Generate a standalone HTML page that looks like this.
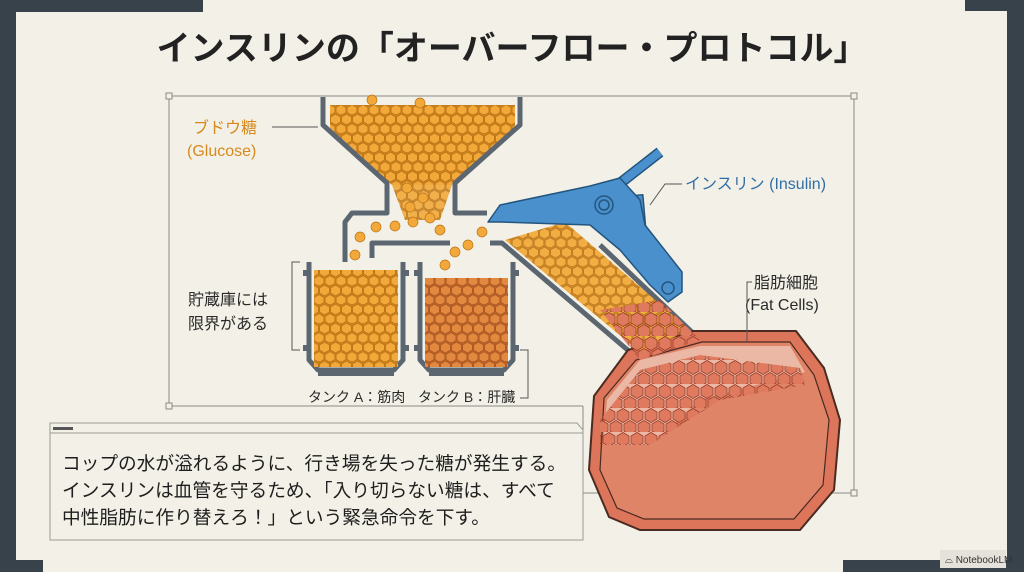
<!DOCTYPE html>
<html><head><meta charset="utf-8"><style>
html,body{margin:0;padding:0;width:1024px;height:572px;overflow:hidden;background:#f3f1e7;}
svg{display:block}
text{font-family:"Liberation Sans","Noto Sans CJK JP",sans-serif;}
</style></head><body>
<svg width="1024" height="572" viewBox="0 0 1024 572" xmlns="http://www.w3.org/2000/svg">
<defs>
<pattern id="hexO" width="11" height="19" patternUnits="userSpaceOnUse">
<rect width="11" height="19" fill="#c9801c"/>
<polygon points="5.5,0.3 10.3,3 10.3,8 5.5,10.7 0.7,8 0.7,3" fill="#f2a93a" stroke="#b87216" stroke-width="0.6"/>
<polygon points="0,9.8 4.8,12.5 4.8,17.5 0,20.2 -4.8,17.5 -4.8,12.5" fill="#f2a93a" stroke="#b87216" stroke-width="0.6"/>
<polygon points="11,9.8 15.8,12.5 15.8,17.5 11,20.2 6.2,17.5 6.2,12.5" fill="#f2a93a" stroke="#b87216" stroke-width="0.6"/>
</pattern>
<pattern id="hexB" width="11" height="19" patternUnits="userSpaceOnUse">
<rect width="11" height="19" fill="#b8602a"/>
<polygon points="5.5,0.3 10.3,3 10.3,8 5.5,10.7 0.7,8 0.7,3" fill="#e3893f" stroke="#a9561f" stroke-width="0.6"/>
<polygon points="0,9.8 4.8,12.5 4.8,17.5 0,20.2 -4.8,17.5 -4.8,12.5" fill="#e3893f" stroke="#a9561f" stroke-width="0.6"/>
<polygon points="11,9.8 15.8,12.5 15.8,17.5 11,20.2 6.2,17.5 6.2,12.5" fill="#e3893f" stroke="#a9561f" stroke-width="0.6"/>
</pattern>
<pattern id="hexR" width="14" height="24" patternUnits="userSpaceOnUse">
<polygon points="7,0.5 13,4 13,11 7,14.5 1,11 1,4" fill="#e07a5f" stroke="#9a3e2a" stroke-width="0.8"/>
<polygon points="0,12.5 6,16 6,23 0,26.5 -6,23 -6,16" fill="#e07a5f" stroke="#9a3e2a" stroke-width="0.8"/>
<polygon points="14,12.5 20,16 20,23 14,26.5 8,23 8,16" fill="#e07a5f" stroke="#9a3e2a" stroke-width="0.8"/>
</pattern>
</defs>

<g fill="#37424b">
<rect x="0" y="0" width="203" height="12"/>
<rect x="0" y="0" width="16" height="572"/>
<rect x="0" y="560" width="43" height="12"/>
<rect x="965" y="0" width="59" height="11"/>
<rect x="1007" y="0" width="17" height="572"/>
<rect x="843" y="560" width="181" height="12"/>
</g>
<rect x="940" y="550" width="66" height="18" fill="#e4e2da"/>
<text x="945" y="563" font-size="10" fill="#333">⌓ NotebookLM</text>

<text x="512" y="60" font-size="34" font-weight="bold" fill="#222" text-anchor="middle">インスリンの「オーバーフロー・プロトコル」</text>

<g stroke="#8a8a86" stroke-width="1" fill="none">
<polyline points="169,406 169,96 854,96 854,493 583,493"/>
<line x1="169" y1="406" x2="583" y2="406"/>
<line x1="583" y1="406" x2="583" y2="540"/>
</g>
<g fill="#f3f1e7" stroke="#8a8a86" stroke-width="1">
<rect x="166" y="93" width="6" height="6"/><rect x="851" y="93" width="6" height="6"/>
<rect x="851" y="490" width="6" height="6"/><rect x="166" y="403" width="6" height="6"/>
</g>

<polygon points="330,105 515,105 515,128 452,185 392,185 330,128" fill="url(#hexO)"/>
<polygon points="392,185 452,185 440,220 405,220" fill="url(#hexO)" opacity="0.9"/>
<g stroke="#5b6670" stroke-width="5" fill="none" stroke-linejoin="round">
<polyline points="323,97 323,125 387,183 387,213 352,213 345,222 345,262"/>
<polyline points="520,97 520,125 455,183 455,213 487,213"/>
<polyline points="450,243 372,243 372,258"/>
<polyline points="309,262 309,360 318,370 394,370 403,360 403,262"/>
<polyline points="420,262 420,360 429,370 504,370 513,360 513,262"/>
<polyline points="490,243 502,243 630,352"/>
<polyline points="600,245 695,335"/>
</g>
<g fill="#5b6670">
<rect x="303" y="270" width="6" height="6"/><rect x="403" y="270" width="6" height="6"/>
<rect x="303" y="345" width="6" height="6"/><rect x="403" y="345" width="6" height="6"/>
<rect x="414" y="270" width="6" height="6"/><rect x="513" y="270" width="6" height="6"/>
<rect x="414" y="345" width="6" height="6"/><rect x="513" y="345" width="6" height="6"/>
<rect x="318" y="372" width="76" height="4"/><rect x="429" y="372" width="75" height="4"/>
</g>
<rect x="314" y="270" width="84" height="97" fill="url(#hexO)"/>
<rect x="425" y="278" width="83" height="89" fill="url(#hexB)"/>
<polygon points="628,350 594,396 589,470 609,517 640,530 800,530 834,490 840,420 824,368 796,331 693,331" fill="#dc755a" stroke="#4a2a22" stroke-width="2"/>
<polygon points="636,360 604,398 600,470 617,508 644,519 794,519 823,485 829,420 814,375 790,342 702,342" fill="#e08468" stroke="#4a2a22" stroke-width="1.2"/>
<polygon points="640,360 700,346 790,346 805,372 700,400 650,445 603,445 607,400" fill="#f3ece0" opacity="0.5"/>
<polygon points="600,420 640,370 700,355 800,368 805,385 720,400 650,445 600,445" fill="url(#hexR)"/>
<polygon points="505,240 565,222 690,330 640,352" fill="url(#hexO)" opacity="0.95"/>
<polygon points="600,310 660,300 700,340 640,360" fill="url(#hexR)"/>
<g fill="#f2a93a" stroke="#b87216" stroke-width="0.7">
<circle cx="372" cy="100" r="5"/><circle cx="420" cy="103" r="5"/>
<circle cx="407" cy="188" r="5"/><circle cx="423" cy="198" r="5"/><circle cx="410" cy="207" r="5"/>
<circle cx="430" cy="218" r="5"/><circle cx="413" cy="222" r="5"/><circle cx="395" cy="226" r="5"/>
<circle cx="376" cy="227" r="5"/><circle cx="360" cy="237" r="5"/><circle cx="440" cy="230" r="5"/>
<circle cx="455" cy="252" r="5"/><circle cx="445" cy="265" r="5"/><circle cx="468" cy="245" r="5"/>
<circle cx="355" cy="255" r="5"/><circle cx="482" cy="232" r="5"/>
</g>

<g fill="#4a90cc" stroke="#24557f" stroke-width="1.5" stroke-linejoin="round">
<line x1="605" y1="195" x2="660" y2="152" stroke="#24557f" stroke-width="11"/>
<line x1="605" y1="195" x2="660" y2="152" stroke="#4a90cc" stroke-width="8"/>
<rect x="638" y="195" width="7" height="50" transform="rotate(-5 641 220)"/>
<polygon points="488,222 500,205 590,186 620,178 640,200 645,225 682,272 682,292 668,302 650,285 620,250 590,225 500,222"/>
<circle cx="604" cy="205" r="9"/><circle cx="604" cy="205" r="5"/>
<circle cx="668" cy="288" r="6"/>
</g>

<g font-size="16">
<text x="193" y="133" fill="#d6891c">ブドウ糖</text>
<text x="187" y="156" fill="#d6891c">(Glucose)</text>
<text x="685" y="189" fill="#2f6fa6">インスリン (Insulin)</text>
<text x="754" y="288" fill="#2a2a2a">脂肪細胞</text>
<text x="745" y="310" fill="#2a2a2a">(Fat Cells)</text>
<text x="188" y="305" fill="#2a2a2a">貯蔵庫には</text>
<text x="188" y="329" fill="#2a2a2a">限界がある</text>
</g>
<text x="308" y="402" font-size="14" fill="#2a2a2a">タンク A：筋肉</text>
<text x="418" y="402" font-size="14" fill="#2a2a2a">タンク B：肝臓</text>
<g stroke="#555" stroke-width="1" fill="none">
<polyline points="272,127 318,127"/>
<polyline points="682,184 665,184 650,205"/>
<polyline points="752,282 747,282 747,342"/>
<polyline points="300,262 292,262 292,350 300,350"/>
<polyline points="520,350 528,350 528,398 520,398"/>
</g>

<polygon points="50,423 577,423 583,430 583,540 50,540" fill="#f3f1e7" stroke="#9a9a96" stroke-width="1"/>
<line x1="50" y1="433" x2="583" y2="433" stroke="#9a9a96" stroke-width="1"/>
<rect x="53" y="427" width="20" height="3" fill="#555"/>
<g font-size="18.7" fill="#1e1e1e">
<text x="62" y="470">コップの水が溢れるように、行き場を失った糖が発生する。</text>
<text x="62" y="497">インスリンは血管を守るため、「入り切らない糖は、すべて</text>
<text x="62" y="524">中性脂肪に作り替えろ！」という緊急命令を下す。</text>
</g>
</svg>
</body></html>
